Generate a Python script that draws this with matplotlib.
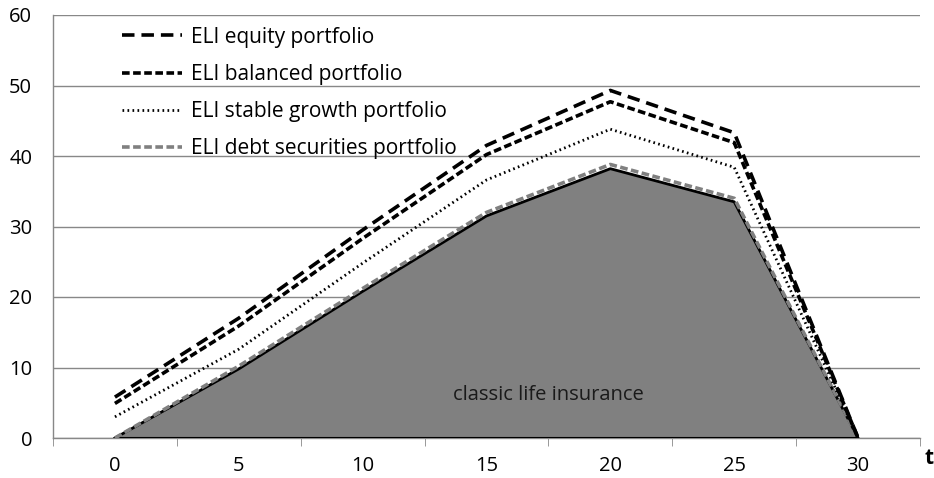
import matplotlib
matplotlib.use("Agg")
import matplotlib.pyplot as plt
import numpy as np

plt.rcParams['font.family'] = ['Open Sans', 'DejaVu Sans']
plt.rcParams['lines.scale_dashes'] = False

t_labels = ["0", "5", "10", "15", "20", "25", "30"]
equity = [5.8, 17.0, 29.5, 41.5, 49.3, 43.3, 0]
balanced = [4.9, 15.9, 28.3, 40.2, 47.7, 41.9, 0]
stable = [3.0, 12.6, 24.8, 36.6, 43.8, 38.4, 0]
debt = [0, 10.2, 21.2, 32.0, 38.8, 34.0, 0]
classic = [0, 9.8, 20.8, 31.5, 38.2, 33.5, 0]

fig = plt.figure(figsize=(9.34, 4.78), dpi=100)
ax = fig.add_axes([53/934, 1-438/478, (920-53)/934, (438-15)/478])

x = np.arange(len(t_labels))
ax.fill_between(x, classic, 0, color='#808080', zorder=2, linewidth=0)
ax.plot(x, classic, color='black', lw=2, zorder=3)
ax.plot([x[0], x[-1]], [0, 0], color='black', lw=1.5, zorder=3)

l1, = ax.plot(x, equity, color='black', lw=2.6, dashes=(9, 5), label='ELI equity portfolio', zorder=5)
l2, = ax.plot(x, balanced, color='black', lw=2.6, dashes=(5.5, 2.5), label='ELI balanced portfolio', zorder=5)
l3, = ax.plot(x, stable, color='black', lw=2.0, dashes=(1.2, 2.4), label='ELI stable growth portfolio', zorder=5)
l4, = ax.plot(x, debt, color='#808080', lw=2.6, dashes=(5.5, 2.5), label='ELI debt securities portfolio', zorder=4)

ax.text(3.5, 6.1, 'classic life insurance', ha='center', va='center', fontsize=14.5, color='#1a1a1a', zorder=6)

ax.set_xlim(-0.5, 6.5)
ax.set_ylim(0, 60)
ax.set_yticks(range(0, 61, 10))
ax.set_xticks(x)
ax.set_xticklabels(t_labels)
ax.set_xticks(np.arange(-0.5, 6.6, 1), minor=True)
ax.tick_params(axis='x', which='major', length=0, pad=13, labelsize=14.5)
ax.tick_params(axis='x', which='minor', length=6, color='#888888', direction='out')
ax.tick_params(axis='y', length=0, pad=15, labelsize=14.5)
ax.grid(axis='y', color='#888888', lw=1, zorder=1)
ax.set_axisbelow(True)
for s in ['top', 'right']:
    ax.spines[s].set_visible(False)
for s in ['left', 'bottom']:
    ax.spines[s].set_color('#888888')
    ax.spines[s].set_linewidth(1)

fig.text(929/934, 1-459/478, 't', fontsize=15, fontweight='bold', ha='center', va='center')

leg = ax.legend(handles=[l1, l2, l3, l4], loc='upper left', bbox_to_anchor=(0.058, 1.017),
                frameon=False, fontsize=15, handlelength=2.9, labelspacing=0.78, handletextpad=0.4)

fig.savefig('out.png', dpi=100)
